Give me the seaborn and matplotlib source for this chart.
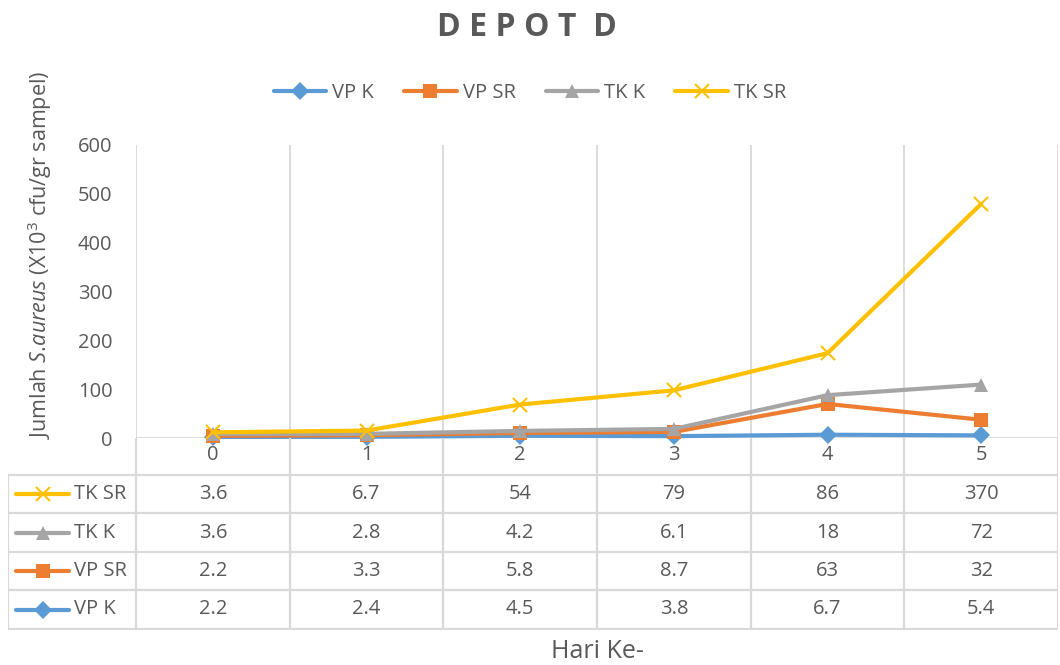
import matplotlib.pyplot as plt
import numpy as np
import pandas as pd
import seaborn as sns
from matplotlib.lines import Line2D

# data (stacked line chart in the original)
hari = [0, 1, 2, 3, 4, 5]
vp_k = [2.2, 2.4, 4.5, 3.8, 6.7, 5.4]
vp_sr = [2.2, 3.3, 5.8, 8.7, 63, 32]
tk_k = [3.6, 2.8, 4.2, 6.1, 18, 72]
tk_sr = [3.6, 6.7, 54, 79, 86, 370]
seri = ['VP K', 'VP SR', 'TK K', 'TK SR']
y_ticks = [0, 100, 200, 300, 400, 500, 600]

warna = ['#5B9BD5', '#ED7D31', '#A5A5A5', '#FFC000']
penanda = ['D', 's', '^', 'x']
teks = '#595959'
garis = '#D9D9D9'
fs = 14.5

sns.set_theme(style='white')
plt.rcParams['font.family'] = ['Open Sans', 'DejaVu Sans']
plt.rcParams['mathtext.fontset'] = 'custom'
plt.rcParams['mathtext.rm'] = 'Open Sans'
plt.rcParams['mathtext.it'] = 'Open Sans:italic'


def ukuran(m):
    return 10 if m == 'x' else (9.5 if m in ('s', '^') else 9)


W, H = 1060, 665
fig = plt.figure(figsize=(W / 100, H / 100), dpi=100)

# plot area in pixels: x 136..1058, y 145..438
ax = fig.add_axes([136 / W, 1 - 438 / H, (1058 - 136) / W, (438 - 145) / H])

df = pd.DataFrame({'Hari': hari, 'VP K': vp_k, 'VP SR': vp_sr, 'TK K': tk_k, 'TK SR': tk_sr})
# stacked: every series sits on top of the previous ones
kumulatif = df[seri].cumsum(axis=1)
kumulatif['Hari'] = df['Hari']

for nama, c, m in zip(seri, warna, penanda):
    sns.lineplot(data=kumulatif, x='Hari', y=nama, ax=ax, color=c, lw=3,
                 marker=m, markersize=ukuran(m), markeredgecolor=c, markerfacecolor=c,
                 markeredgewidth=1.5 if m == 'x' else 0, clip_on=False, zorder=3)

ax.set_xlim(-0.5, 5.5)
ax.set_ylim(0, 600)
ax.set_yticks(y_ticks)
ax.set_xticks(hari)
ax.set_xticks(np.arange(-0.5, 6, 1), minor=True)
ax.grid(False)
ax.grid(which='minor', axis='x', color=garis, lw=1.3)
ax.axhline(0, color=garis, lw=1.3, zorder=1)
for s in ax.spines.values():
    s.set_visible(False)
ax.tick_params(which='both', length=0, colors=teks, labelsize=fs)
ax.tick_params(axis='y', pad=17)
ax.tick_params(axis='x', pad=5)
ax.set_xlabel('')
ax.set_ylabel('')

# data table below the plot
hw = (136 - 8) / ((1058 - 136) / 6)
tab = fig.add_axes([8 / W, 1 - 630 / H, (1058 - 8) / W, (630 - 438) / H])
tab.set_xlim(-0.5 - hw, 5.5)
tab.set_ylim(192, 0)
tab.axis('off')
x0 = -0.5 - hw
batas = [37, 75, 114, 152, 191]
for x in np.arange(-0.5, 6, 1):
    tab.plot([x, x], [0, 191], color=garis, lw=1.6, solid_capstyle='butt')
tab.plot([x0, x0], [37, 191], color=garis, lw=1.6, solid_capstyle='butt')
for y in batas:
    tab.plot([x0, 5.5], [y, y], color=garis, lw=1.6, solid_capstyle='butt')

baris = list(zip(seri, warna, penanda, [vp_k, vp_sr, tk_k, tk_sr]))[::-1]
for i, (nama, c, m, vals) in enumerate(baris):
    yc = (batas[i] + batas[i + 1]) / 2
    tab.plot([x0 + 0.05, x0 + 0.4], [yc, yc], color=c, lw=3, solid_capstyle='round')
    tab.plot([x0 + 0.225], [yc], marker=m, color=c, markersize=ukuran(m),
             markeredgewidth=1.5 if m == 'x' else 0)
    tab.text(x0 + 0.43, yc, nama, ha='left', va='center', color=teks, fontsize=fs)
    for h, v in zip(hari, vals):
        tab.text(h, yc, f'{v:g}', ha='center', va='center', color=teks, fontsize=fs)

# legend on top
handles = [Line2D([0], [0], color=c, lw=3, marker=m, markersize=ukuran(m),
                  markeredgewidth=1.5 if m == 'x' else 0)
           for c, m in zip(warna, penanda)]
fig.legend(handles, seri, loc='center', bbox_to_anchor=(530 / W, 1 - 93 / H), ncol=4,
           frameon=False, fontsize=fs, labelcolor=teks, handlelength=2.6,
           columnspacing=1.5, handletextpad=0.3)

fig.text(527 / W, 1 - 28 / H, 'D E P O T  D', ha='center', va='center',
         fontsize=23, fontweight='bold', color=teks)
fig.text(40 / W, 1 - 255 / H, r'Jumlah $\it{S{.}\!aureus}$ (X10$^{3}$ cfu/gr sampel)',
         rotation=90, ha='center', va='center', fontsize=15.5, color=teks)
fig.text(597 / W, 1 - 652 / H, 'Hari Ke-', ha='center', va='center',
         fontsize=18, color=teks)

plt.savefig('out.png', dpi=100)
